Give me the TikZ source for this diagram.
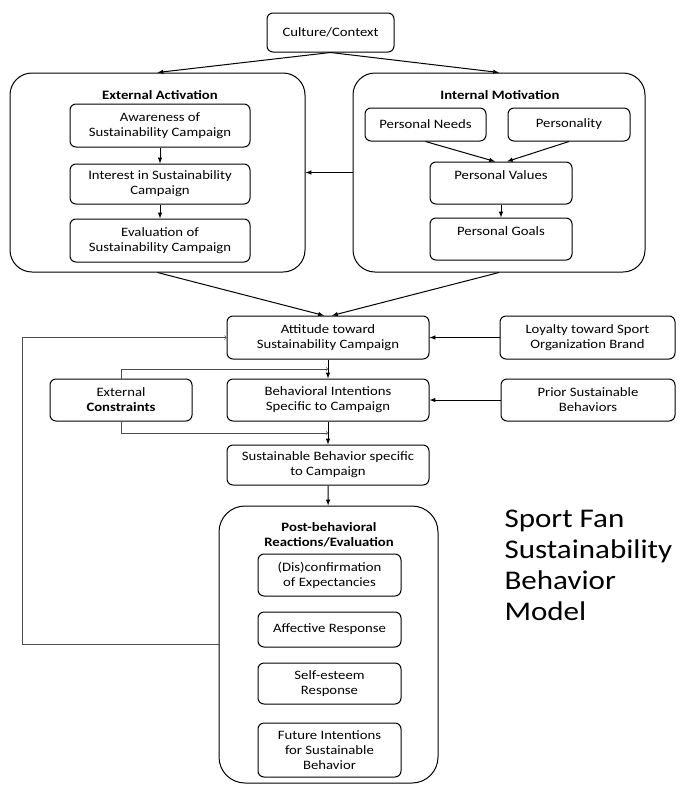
\documentclass[tikz,border=0pt]{standalone}
\usepackage{fontspec}
\setmainfont{Carlito}[FakeStretch=1.15]
\usetikzlibrary{arrows,shapes,positioning,calc}

\begin{document}
\begin{tikzpicture}[x=1pt,y=-1pt,>=latex,font=\fontsize{12.8}{15}\selectfont]
	\tikzstyle{smallbox}=[draw,rounded corners=6pt,line width=1pt,align=center,inner sep=1pt]
	\tikzstyle{bigbox}=[draw,rounded corners=22pt,line width=1pt]
	\tikzstyle{heading}=[font=\fontsize{12.8}{15}\selectfont\bfseries,align=center]
	\tikzstyle{flow}=[->,line width=1pt]
	\tikzstyle{side}=[-to,line width=0.6pt,black!70]
	
	\useasboundingbox (0,0) rectangle (685,785);
	
	% top
	\node[smallbox,minimum width=127pt,minimum height=39pt](culture) at (330.5,32.5){Culture/Context};
	\node[bigbox,minimum width=295pt,minimum height=199pt](extact) at (157.5,172.5){};
	\node[bigbox,minimum width=292pt,minimum height=199pt](intmot) at (499,172.5){};
	\node[heading] at (160,95){External Activation};
	\node[heading] at (500,95){Internal Motivation};
	
	\node[smallbox,minimum width=180pt,minimum height=43pt](aware) at (160,125.5){Awareness of\\Sustainability Campaign};
	\node[smallbox,minimum width=180pt,minimum height=40pt](interest) at (160,184){Interest in Sustainability\\Campaign};
	\node[smallbox,minimum width=180pt,minimum height=43pt](evalc) at (160,240.5){Evaluation of\\Sustainability Campaign};
	
	\node[smallbox,minimum width=121pt,minimum height=33pt](needs) at (425.5,124.5){Personal Needs};
	\node[smallbox,minimum width=122pt,minimum height=33pt](persty) at (569,124.5){Personality};
	\node[smallbox,minimum width=142pt,minimum height=42pt](values) at (501,183){Personal Values\\~};
	\node[smallbox,minimum width=142pt,minimum height=42pt](goals) at (501,239){Personal Goals\\~};
	
	% middle
	\node[smallbox,minimum width=202pt,minimum height=43pt](attitude) at (328,337.5){Attitude toward\\Sustainability Campaign};
	\node[smallbox,minimum width=175pt,minimum height=43pt](loyalty) at (587.5,337.5){Loyalty toward Sport\\Organization Brand};
	\node[smallbox,minimum width=202pt,minimum height=42pt](intent) at (328,400){Behavioral Intentions\\Specific to Campaign};
	\node[smallbox,minimum width=142pt,minimum height=42pt](extc) at (121,400){External\\\textbf{Constraints}};
	\node[smallbox,minimum width=174pt,minimum height=42pt](prior) at (588,400){Prior Sustainable\\Behaviors};
	\node[smallbox,minimum width=202pt,minimum height=40pt](behav) at (328,465){Sustainable Behavior specific\\to Campaign};
	
	% bottom
	\node[bigbox,rounded corners=26pt,minimum width=219pt,minimum height=277pt](post) at (328.5,644.5){};
	\node[heading] at (329,534.5){Post-behavioral\\Reactions/Evaluation};
	\node[smallbox,minimum width=143pt,minimum height=42pt](disconf) at (329.5,575){(Dis)confirmation\\of Expectancies};
	\node[smallbox,minimum width=143pt,minimum height=35pt](affect) at (329.5,629.5){Affective Response};
	\node[smallbox,minimum width=143pt,minimum height=41pt](selfest) at (329.5,683.5){Self-esteem\\Response};
	\node[smallbox,minimum width=143pt,minimum height=54pt](future) at (329.5,750){Future Intentions\\for Sustainable\\Behavior};
	
	\node[anchor=north west,align=left,font=\fontsize{27}{31}\selectfont](title) at (501,506){Sport Fan\\Sustainability\\Behavior\\Model};
	
	\coordinate (loop) at (22,644.5);
	
	\path[flow] (culture.south) edge (extact.north);
	\path[flow] (culture.south) edge (intmot.north);
	\path[flow] (aware) edge (interest);
	\path[flow] (interest) edge (evalc);
	\path[flow] (needs.south) edge ($(values.north)+(-6,0)$);
	\path[flow] (persty.south) edge ($(values.north)+(6,0)$);
	\path[flow] (values) edge (goals);
	\path[flow] (intmot.west) edge (extact.east);
	\path[flow] (extact.south) edge ($(attitude.north)+(-4,0)$);
	\path[flow] (intmot.south) edge ($(attitude.north)+(4,0)$);
	\path[flow] (loyalty) edge (attitude);
	\path[flow] (prior) edge (intent);
	\path[flow] (attitude) edge (intent);
	\path[flow] (intent) edge (behav);
	\path[flow] (behav) edge (post);
	
	\draw[side] (extc.north) |- ($(attitude.south)!0.5!(intent.north)$);
	\draw[side] (extc.south) |- ($(intent.south)!0.5!(behav.north)$);
	\draw[side] (post.west) -- (loop) |- (attitude.west);
\end{tikzpicture}
\end{document}
